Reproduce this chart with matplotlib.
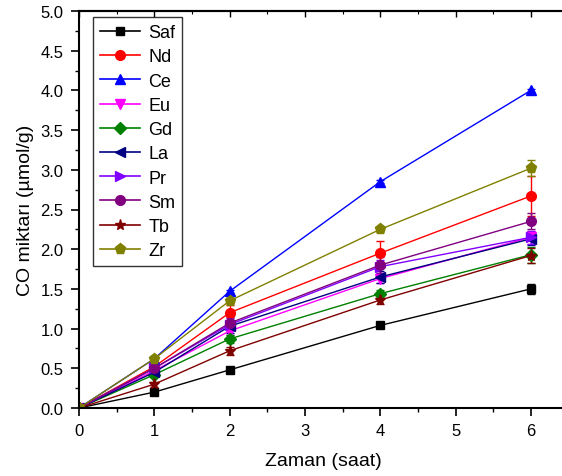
import matplotlib
matplotlib.use("Agg")
import matplotlib.pyplot as plt
from matplotlib.ticker import MultipleLocator
from matplotlib.lines import Line2D

plt.rcParams['font.family'] = ['Liberation Sans', 'DejaVu Sans']

x = [0, 1, 2, 4, 6]
names = ["Saf", "Nd", "Ce", "Eu", "Gd", "La", "Pr", "Sm", "Tb", "Zr"]
saf = [0.0, 0.20, 0.48, 1.04, 1.50]
nd = [0.0, 0.52, 1.20, 1.95, 2.67]
ce = [0.0, 0.62, 1.47, 2.85, 4.00]
eu = [0.0, 0.47, 0.97, 1.63, 2.15]
gd = [0.0, 0.42, 0.87, 1.44, 1.93]
la = [0.0, 0.45, 1.03, 1.65, 2.13]
pr = [0.0, 0.50, 1.05, 1.78, 2.15]
sm = [0.0, 0.50, 1.07, 1.80, 2.35]
tb = [0.0, 0.30, 0.72, 1.36, 1.92]
zr = [0.0, 0.62, 1.35, 2.25, 3.02]

saf_err = [0.0, 0.02, 0.02, 0.02, 0.06]
nd_err = [0.0, 0.03, 0.10, 0.15, 0.25]
ce_err = [0.0, 0.02, 0.02, 0.02, 0.02]
eu_err = [0.0, 0.05, 0.05, 0.05, 0.08]
gd_err = [0.0, 0.03, 0.05, 0.05, 0.10]
la_err = [0.0, 0.05, 0.08, 0.08, 0.08]
pr_err = [0.0, 0.05, 0.08, 0.08, 0.08]
sm_err = [0.0, 0.05, 0.08, 0.10, 0.10]
tb_err = [0.0, 0.03, 0.05, 0.05, 0.10]
zr_err = [0.0, 0.03, 0.03, 0.03, 0.10]

series = [saf, nd, ce, eu, gd, la, pr, sm, tb, zr]
errors = [saf_err, nd_err, ce_err, eu_err, gd_err, la_err, pr_err, sm_err, tb_err, zr_err]
colors = ["#000000", "#ff0000", "#0000ff", "#ff00ff", "#008000",
          "#000080", "#8000ff", "#800080", "#800000", "#808000"]
markers = ["s", "o", "^", "v", "D", "<", ">", "o", "*", "p"]
msizes = [6, 7, 7, 7, 6, 7, 7, 7, 8, 8]

fig = plt.figure(figsize=(5.62, 4.77), dpi=100)
ax = fig.add_axes([79/562, 68/477, 489.5/562, 397/477])

handles = []
for name, ys, es, c, m, ms in zip(names, series, errors, colors, markers, msizes):
    ax.errorbar(x, ys, yerr=es, color=c, marker=m, markersize=ms, lw=1.0,
                elinewidth=1.0, capsize=3)
    handles.append(Line2D([], [], color=c, marker=m, markersize=ms, lw=1.2,
                          label=name))

ax.set_xlim(0, 6.5)
ax.set_ylim(0, 5.0)
ax.set_xticks([0, 1, 2, 3, 4, 5, 6])
ax.xaxis.set_minor_locator(MultipleLocator(0.5))
ax.set_yticks([i * 0.5 for i in range(11)])
ax.set_yticklabels([f"{i * 0.5:.1f}" for i in range(11)])
ax.yaxis.set_minor_locator(MultipleLocator(0.25))
ax.tick_params(axis='both', which='major', direction='out', length=6, width=1.2,
               labelsize=12, pad=5)
ax.tick_params(axis='both', which='minor', direction='out', length=3, width=1.0)
for s in ax.spines.values():
    s.set_linewidth(1.5)

top = ax.secondary_xaxis('top')
top.set_xticks([0, 1, 2, 3, 4, 5, 6])
top.xaxis.set_minor_locator(MultipleLocator(0.5))
top.tick_params(which='major', direction='in', length=4, width=1.0, labeltop=False)
top.tick_params(which='minor', direction='in', length=2, width=0.8)
top.spines['top'].set_linewidth(1.5)

ax.set_xlabel("Zaman (saat)", fontsize=14, labelpad=10)
ax.set_ylabel("CO miktarı (µmol/g)", fontsize=14, labelpad=5)

leg = ax.legend(handles=handles, loc='upper left', bbox_to_anchor=(0.029, 0.985),
                borderaxespad=0, fontsize=13, frameon=True, fancybox=False,
                edgecolor='black', handlelength=2.2, labelspacing=0.4,
                borderpad=0.4, handletextpad=0.45)
leg.get_frame().set_linewidth(1.0)

fig.savefig("out.png", dpi=100)
